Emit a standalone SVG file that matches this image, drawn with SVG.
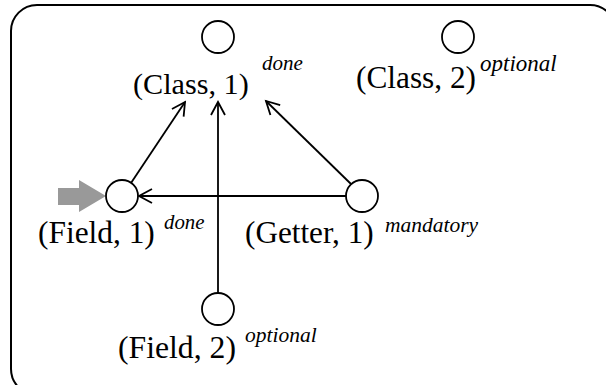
<svg xmlns="http://www.w3.org/2000/svg" width="606" height="385" viewBox="0 0 606 385">
<style>
.node circle{fill:#fff;stroke:#000;stroke-width:1.8}
.lbl{font-family:'Liberation Serif','Times New Roman',serif;font-size:31px;fill:#000}
.sup{font-family:'Liberation Serif','Times New Roman',serif;font-size:21.5px;font-style:italic;fill:#000}
.edge{stroke:#000;stroke-width:1.8;fill:none}
</style>
<defs>
<marker id="open" markerUnits="userSpaceOnUse" markerWidth="30" markerHeight="30" refX="0" refY="0" viewBox="-15 -15 30 30" orient="auto" overflow="visible">
<path d="M -13 -7 L 0 0 L -13 7" fill="none" stroke="#000" stroke-width="1.8"/>
</marker>
</defs>
<rect x="11" y="5" width="605" height="390" rx="26" ry="26" fill="none" stroke="#000" stroke-width="2"/>
<g id="connectors">
<line class="edge" x1="131" y1="183" x2="185" y2="102" marker-end="url(#open)"/>
<line class="edge" x1="218" y1="293" x2="218" y2="102" marker-end="url(#open)"/>
<line class="edge" x1="351" y1="184" x2="266" y2="101" marker-end="url(#open)"/>
<line class="edge" x1="346" y1="196" x2="139" y2="196" marker-end="url(#open)"/>
</g>
<g id="start-arrow">
<polygon points="58,188 79,188 79,180 106,196 79,212 79,205 58,205" fill="#999"/>
</g>
<g id="class1" class="node">
<circle cx="218" cy="37" r="16"/>
<text class="lbl" x="133" y="94" style="font-size:30.2px">(Class, 1)</text>
<text class="sup" x="262" y="70" style="font-size:21px">done</text>
</g>
<g id="class2" class="node">
<circle cx="458" cy="37" r="16"/>
<text class="lbl" x="356" y="88" style="font-size:31.3px">(Class, 2)</text>
<text class="sup" x="480" y="70.5" style="font-size:23px">optional</text>
</g>
<g id="field1" class="node">
<circle cx="122" cy="196" r="16"/>
<text class="lbl" x="38" y="243" style="font-size:31.4px">(Field, 1)</text>
<text class="sup" x="164" y="229" style="font-size:20.8px">done</text>
</g>
<g id="getter1" class="node">
<circle cx="362" cy="196" r="16"/>
<text class="lbl" x="245" y="243" style="font-size:31.2px">(Getter, 1)</text>
<text class="sup" x="385" y="231.5">mandatory</text>
</g>
<g id="field2" class="node">
<circle cx="218" cy="309" r="16"/>
<text class="lbl" x="118" y="358" style="font-size:31.7px">(Field, 2)</text>
<text class="sup" x="245" y="342">optional</text>
</g>
</svg>
